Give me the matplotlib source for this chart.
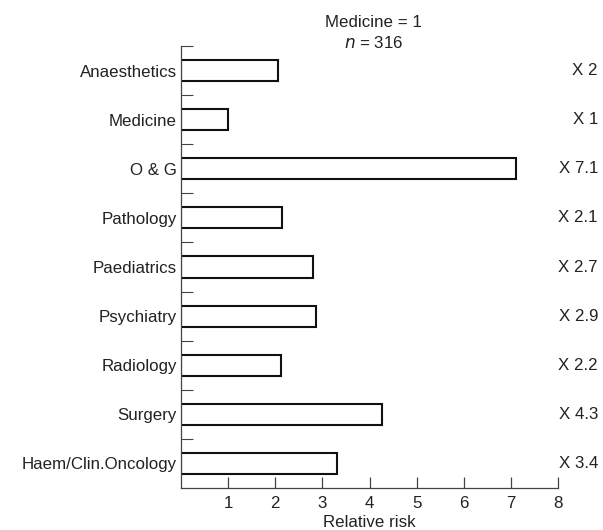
import matplotlib
matplotlib.use("Agg")
import matplotlib.pyplot as plt
import matplotlib.transforms as mtransforms

plt.rcParams['font.family'] = ['Liberation Sans', 'DejaVu Sans']

###############################################################################
specialties = ['Anaesthetics', 'Medicine', 'O & G', 'Pathology', 'Paediatrics',
               'Psychiatry', 'Radiology', 'Surgery', 'Haem/Clin.Oncology']
risk = [2.05, 1.0, 7.1, 2.15, 2.8, 2.87, 2.13, 4.26, 3.3]
risk_labels = ['X 2', 'X 1', 'X 7.1', 'X 2.1', 'X 2.7', 'X 2.9', 'X 2.2', 'X 4.3', 'X 3.4']
xticks = [1, 2, 3, 4, 5, 6, 7, 8]
###############################################################################

txt = '#222222'
fs = 12.2
fig = plt.figure(figsize=(6.03, 5.30), dpi=100)
ax = fig.add_axes([0.3002, 0.0792, 0.6252, 0.834])

pos = list(range(len(specialties)))
ax.barh(pos, risk, height=0.43, color='white', edgecolor='#111111', linewidth=1.5)

ax.set_ylim(len(specialties) - 0.5, -0.5)
ax.set_xlim(0, 8)

# category labels, no major tick marks
ax.set_yticks(pos)
ax.set_yticklabels(specialties, fontsize=fs, color=txt)
ax.tick_params(axis='y', which='major', length=0, pad=3)
# short separators between bars
ax.set_yticks([p - 0.5 for p in pos], minor=True)
ax.tick_params(axis='y', which='minor', direction='in', length=8.6, width=0.8, color='#444444')

ax.set_xticks(xticks)
ax.set_xticklabels([str(t) for t in xticks], fontsize=fs, color=txt)
ax.tick_params(axis='x', direction='in', length=7.9, width=0.9, color='#444444', pad=6)

for side in ['top', 'right']:
    ax.spines[side].set_visible(False)
for side in ['left', 'bottom']:
    ax.spines[side].set_color('#444444')
    ax.spines[side].set_linewidth(0.9)

trans = mtransforms.blended_transform_factory(ax.transAxes, ax.transData)
for p, lab in zip(pos, risk_labels):
    ax.text(1.106, p, lab, transform=trans, ha='right', va='center', fontsize=fs, color=txt)

ax.set_xlabel('Relative risk', fontsize=fs, color=txt, labelpad=2.5)

ax.text(0.51, 1.054, 'Medicine = 1', transform=ax.transAxes, ha='center', va='center',
        fontsize=fs, color=txt)
ax.text(0.51, 1.007, '$\\it{n}$ = 316', transform=ax.transAxes, ha='center', va='center',
        fontsize=fs, color=txt)

fig.savefig('out.png', dpi=100)
